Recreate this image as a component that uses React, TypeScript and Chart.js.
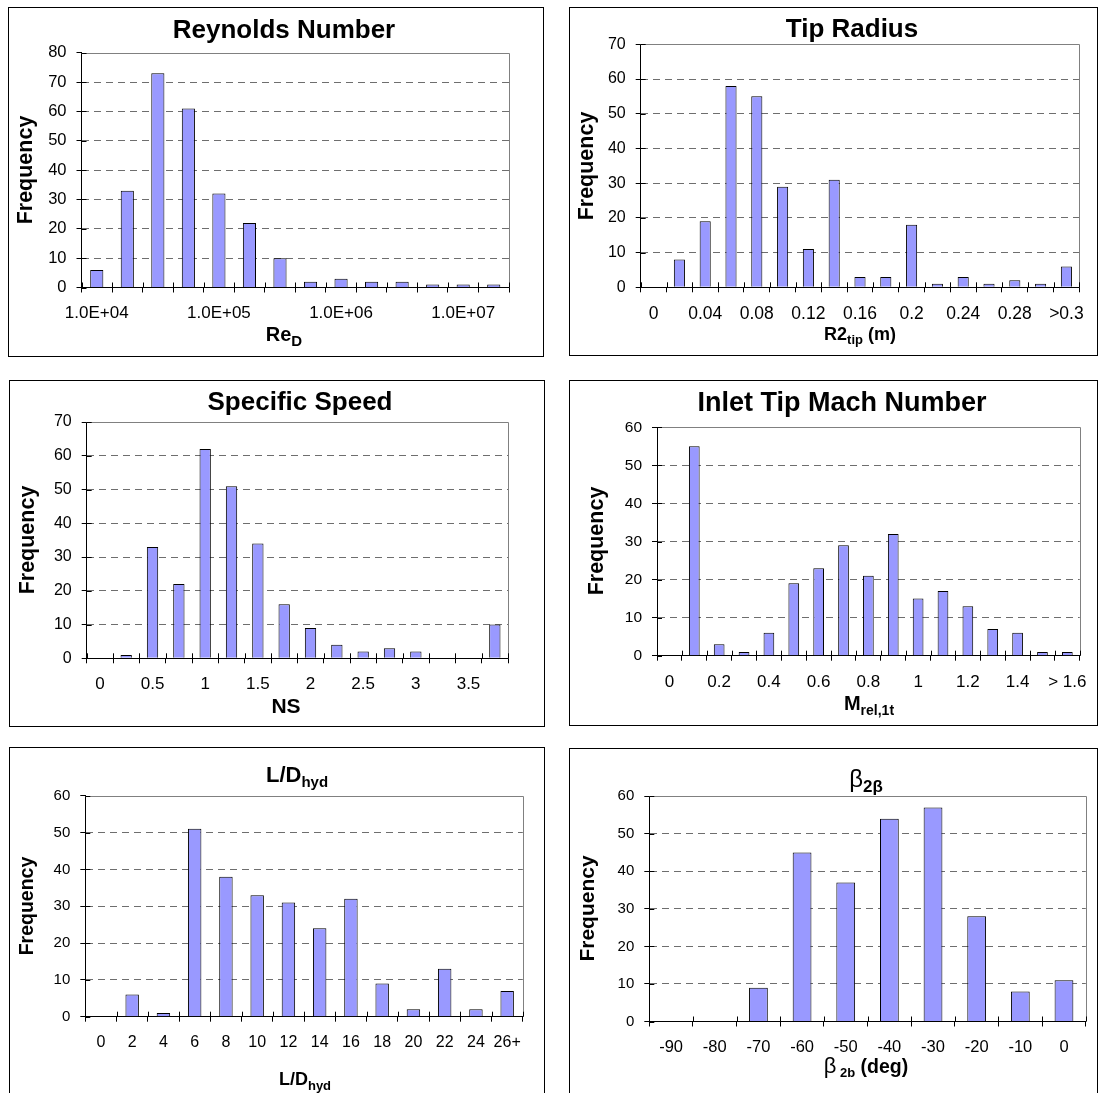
import React, { useEffect, useRef } from "react";
import { Chart, registerables } from "chart.js";

Chart.register(...registerables);

const FONT = '"Liberation Sans", Arial, Helvetica, sans-serif';

// ---- Histogram data ----
const reCategories = ["1.0E+04", "1.8E+04", "3.2E+04", "5.6E+04", "1.0E+05", "1.8E+05", "3.2E+05", "5.6E+05", "1.0E+06", "1.8E+06", "3.2E+06", "5.6E+06", "1.0E+07", "1.8E+07"];
const reCounts = [6, 33, 73, 61, 32, 22, 10, 2, 3, 2, 2, 1, 1, 1];

const tipCategories = ["0", "0.02", "0.04", "0.06", "0.08", "0.1", "0.12", "0.14", "0.16", "0.18", "0.2", "0.22", "0.24", "0.26", "0.28", "0.3", ">0.3"];
const tipCounts = [0, 8, 19, 58, 55, 29, 11, 31, 3, 3, 18, 1, 3, 1, 2, 1, 6];

const nsCategories = ["0", "0.25", "0.5", "0.75", "1", "1.25", "1.5", "1.75", "2", "2.25", "2.5", "2.75", "3", "3.25", "3.5", "3.75"];
const nsCounts = [0, 1, 33, 22, 62, 51, 34, 16, 9, 4, 2, 3, 2, 0, 0, 10];

const machCategories = ["0", "0.1", "0.2", "0.3", "0.4", "0.5", "0.6", "0.7", "0.8", "0.9", "1", "1.1", "1.2", "1.3", "1.4", "1.5", "> 1.6"];
const machCounts = [0, 55, 3, 1, 6, 19, 23, 29, 21, 32, 15, 17, 13, 7, 6, 1, 1];

const ldCategories = ["0", "2", "4", "6", "8", "10", "12", "14", "16", "18", "20", "22", "24", "26+"];
const ldCounts = [0, 6, 1, 51, 38, 33, 31, 24, 32, 9, 2, 13, 2, 7];

const betaCategories = ["-90", "-80", "-70", "-60", "-50", "-40", "-30", "-20", "-10", "0"];
const betaCounts = [0, 0, 9, 45, 37, 54, 57, 28, 8, 11];

// ---- Layout / styling ----
type Seg = { t: string; size: number; bold?: boolean; dy?: number };
type TextSpec = { segs: Seg[]; cx: number; y: number };
type PanelSpec = {
  box: { x: number; y: number; w: number; h: number };
  plot: { l: number; t: number; r: number; b: number };
  categories: string[];
  counts: number[];
  labelStep: number;
  yMax: number;
  yTickSize: number;
  xTickSize: number;
  xTickPad: number;
  title: TextSpec;
  xTitle: TextSpec;
  yTitle: { size: number; cx: number; cy: number };
};

const Y_AXIS_W = 50;
const X_AXIS_H = 40;
const TICK = 5;

const panels: PanelSpec[] = [
  {
    box: { x: 8, y: 7, w: 536, h: 350 },
    plot: { l: 81.5, t: 52.7, r: 509, b: 287.5 },
    categories: reCategories,
    counts: reCounts,
    labelStep: 4,
    yMax: 80,
    yTickSize: 16.5,
    xTickSize: 17,
    xTickPad: 11,
    title: { segs: [{ t: "Reynolds Number", size: 26, bold: true }], cx: 284, y: 38 },
    xTitle: { segs: [{ t: "Re", size: 20, bold: true }, { t: "D", size: 15, bold: true, dy: 5 }], cx: 284, y: 341 },
    yTitle: { size: 21.5, cx: 26, cy: 170 },
  },
  {
    box: { x: 569, y: 7, w: 529, h: 349 },
    plot: { l: 640.7, t: 44.3, r: 1079.3, b: 287.3 },
    categories: tipCategories,
    counts: tipCounts,
    labelStep: 2,
    yMax: 70,
    yTickSize: 16,
    xTickSize: 17.5,
    xTickPad: 11,
    title: { segs: [{ t: "Tip Radius", size: 26, bold: true }], cx: 852, y: 37 },
    xTitle: {
      segs: [
        { t: "R2", size: 18, bold: true },
        { t: "tip", size: 13, bold: true, dy: 4 },
        { t: " (m)", size: 18, bold: true },
      ],
      cx: 860,
      y: 340,
    },
    yTitle: { size: 21.5, cx: 587, cy: 166 },
  },
  {
    box: { x: 9, y: 380, w: 536, h: 347 },
    plot: { l: 86.7, t: 422, r: 508, b: 658.3 },
    categories: nsCategories,
    counts: nsCounts,
    labelStep: 2,
    yMax: 70,
    yTickSize: 16,
    xTickSize: 17,
    xTickPad: 11,
    title: { segs: [{ t: "Specific Speed", size: 26, bold: true }], cx: 300, y: 410 },
    xTitle: { segs: [{ t: "NS", size: 21, bold: true }], cx: 286, y: 713 },
    yTitle: { size: 21.5, cx: 28, cy: 540 },
  },
  {
    box: { x: 569, y: 380, w: 529, h: 346 },
    plot: { l: 657, t: 427.3, r: 1080, b: 655.7 },
    categories: machCategories,
    counts: machCounts,
    labelStep: 2,
    yMax: 60,
    yTickSize: 15.5,
    xTickSize: 17,
    xTickPad: 11,
    title: { segs: [{ t: "Inlet Tip Mach Number", size: 27, bold: true }], cx: 842, y: 411 },
    xTitle: {
      segs: [
        { t: "M", size: 20, bold: true },
        { t: "rel,1t", size: 14, bold: true, dy: 5 },
      ],
      cx: 869,
      y: 710,
    },
    yTitle: { size: 21.5, cx: 597, cy: 541 },
  },
  {
    box: { x: 9, y: 747, w: 536, h: 360 },
    plot: { l: 85.3, t: 795.7, r: 522.8, b: 1016.7 },
    categories: ldCategories,
    counts: ldCounts,
    labelStep: 1,
    yMax: 60,
    yTickSize: 15,
    xTickSize: 16,
    xTickPad: 11,
    title: {
      segs: [
        { t: "L/D", size: 22, bold: true },
        { t: "hyd", size: 15, bold: true, dy: 5 },
      ],
      cx: 297,
      y: 782,
    },
    xTitle: {
      segs: [
        { t: "L/D", size: 18, bold: true },
        { t: "hyd", size: 13, bold: true, dy: 5 },
      ],
      cx: 305,
      y: 1085,
    },
    yTitle: { size: 19.5, cx: 28, cy: 906 },
  },
  {
    box: { x: 569, y: 747.5, w: 529, h: 360 },
    plot: { l: 649.3, t: 795.7, r: 1085.8, b: 1021 },
    categories: betaCategories,
    counts: betaCounts,
    labelStep: 1,
    yMax: 60,
    yTickSize: 15,
    xTickSize: 16.5,
    xTickPad: 11,
    title: {
      segs: [
        { t: "β", size: 24 },
        { t: "2β", size: 17, bold: true, dy: 5 },
      ],
      cx: 866,
      y: 786,
    },
    xTitle: {
      segs: [
        { t: "β", size: 22 },
        { t: " 2b", size: 13, bold: true, dy: 4 },
        { t: " (deg)", size: 19.5, bold: true },
      ],
      cx: 866,
      y: 1072,
    },
    yTitle: { size: 21, cx: 588.6, cy: 908 },
  },
];

const fontOf = (s: Seg) => `${s.bold ? "bold " : ""}${s.size}px ${FONT}`;

function drawSegments(ctx: CanvasRenderingContext2D, segs: Seg[], cx: number, y: number) {
  let total = 0;
  for (const s of segs) {
    ctx.font = fontOf(s);
    total += ctx.measureText(s.t).width;
  }
  let x = cx - total / 2;
  for (const s of segs) {
    ctx.font = fontOf(s);
    ctx.fillText(s.t, x, y + (s.dy || 0));
    x += ctx.measureText(s.t).width;
  }
}

function makeDecor(p: PanelSpec) {
  const ox = p.box.x;
  const oy = p.box.y;
  return {
    id: "panelDecor",
    beforeDraw(chart: any) {
      const { ctx, width, height } = chart;
      ctx.save();
      ctx.fillStyle = "#ffffff";
      ctx.fillRect(0, 0, width, height);
      ctx.strokeStyle = "#000000";
      ctx.lineWidth = 1;
      ctx.strokeRect(0.5, 0.5, width - 1, height - 1);
      ctx.restore();
    },
    beforeDatasetsDraw(chart: any) {
      const { ctx, chartArea } = chart;
      const { left, right, top, bottom } = chartArea;
      ctx.save();
      ctx.strokeStyle = "#808080";
      ctx.lineWidth = 1;
      ctx.beginPath();
      const yt = Math.round(top) + 0.5;
      const xr = Math.round(right) + 0.5;
      ctx.moveTo(left, yt);
      ctx.lineTo(xr, yt);
      ctx.lineTo(xr, bottom);
      ctx.stroke();
      ctx.restore();
    },
    afterDraw(chart: any) {
      const { ctx, chartArea } = chart;
      const { left, bottom } = chartArea;
      const xs = chart.scales.x;
      const ys = chart.scales.y;
      ctx.save();
      // inner halves of the crossing tick marks
      ctx.strokeStyle = "#000000";
      ctx.lineWidth = 1;
      ctx.beginPath();
      const n = p.categories.length;
      const half = (xs.getPixelForValue(1) - xs.getPixelForValue(0)) / 2;
      for (let i = 0; i <= n; i++) {
        const x = Math.round(i < n ? xs.getPixelForValue(i) - half : xs.getPixelForValue(n - 1) + half) + 0.5;
        ctx.moveTo(x, bottom);
        ctx.lineTo(x, bottom - TICK);
      }
      for (const t of ys.ticks) {
        const y = Math.round(ys.getPixelForValue(t.value)) + 0.5;
        ctx.moveTo(left, y);
        ctx.lineTo(left + TICK, y);
      }
      ctx.stroke();

      // titles
      ctx.fillStyle = "#000000";
      ctx.textAlign = "left";
      ctx.textBaseline = "alphabetic";
      drawSegments(ctx, p.title.segs, p.title.cx - ox, p.title.y - oy);
      drawSegments(ctx, p.xTitle.segs, p.xTitle.cx - ox, p.xTitle.y - oy);

      ctx.translate(p.yTitle.cx - ox, p.yTitle.cy - oy);
      ctx.rotate(-Math.PI / 2);
      ctx.font = `bold ${p.yTitle.size}px ${FONT}`;
      ctx.textAlign = "center";
      ctx.textBaseline = "middle";
      ctx.fillText("Frequency", 0, 0);
      ctx.restore();
    },
  };
}

function buildConfig(p: PanelSpec): any {
  const pad = {
    left: p.plot.l - p.box.x - Y_AXIS_W,
    top: p.plot.t - p.box.y,
    right: p.box.x + p.box.w - p.plot.r,
    bottom: p.box.y + p.box.h - p.plot.b - X_AXIS_H,
  };
  return {
    type: "bar",
    data: {
      labels: p.categories,
      datasets: [
        {
          data: p.counts,
          backgroundColor: "#9999ff",
          borderColor: "#000000",
          borderWidth: 1,
          barPercentage: 0.43,
          categoryPercentage: 1,
        },
      ],
    },
    plugins: [makeDecor(p)],
    options: {
      animation: false,
      responsive: false,
      devicePixelRatio: 1,
      layout: { padding: pad },
      plugins: {
        legend: { display: false },
        title: { display: false },
        tooltip: { enabled: false },
      },
      scales: {
        x: {
          type: "category",
          afterFit: (s: any) => {
            s.height = X_AXIS_H;
          },
          grid: {
            display: true,
            offset: true,
            drawOnChartArea: false,
            drawTicks: true,
            tickLength: TICK,
            tickColor: "#000000",
            color: "#000000",
          },
          border: { display: true, color: "#000000", width: 1 },
          ticks: {
            autoSkip: false,
            maxRotation: 0,
            minRotation: 0,
            padding: p.xTickPad,
            color: "#000000",
            font: { family: FONT, size: p.xTickSize },
            callback: (_v: any, i: number) => (i % p.labelStep === 0 ? p.categories[i] : ""),
          },
        },
        y: {
          min: 0,
          max: p.yMax,
          afterFit: (s: any) => {
            s.width = Y_AXIS_W;
          },
          grid: {
            drawTicks: true,
            tickLength: TICK,
            tickColor: "#000000",
            color: (c: any) =>
              c.tick && (c.tick.value === 0 || c.tick.value === p.yMax) ? "rgba(0,0,0,0)" : "#6e6e6e",
          },
          border: { display: true, color: "#000000", width: 1, dash: [7, 5] },
          ticks: {
            stepSize: 10,
            padding: 10,
            color: "#000000",
            font: { family: FONT, size: p.yTickSize },
          },
        },
      },
    },
  };
}

function HistogramPanel({ spec }: { spec: PanelSpec }) {
  const ref = useRef<HTMLCanvasElement | null>(null);
  useEffect(() => {
    if (!ref.current) return;
    const chart = new Chart(ref.current, buildConfig(spec));
    return () => chart.destroy();
  }, [spec]);
  return (
    <canvas
      ref={ref}
      width={spec.box.w}
      height={spec.box.h}
      style={{
        position: "absolute",
        left: spec.box.x,
        top: spec.box.y,
        width: spec.box.w,
        height: spec.box.h,
        display: "block",
      }}
    />
  );
}

export default function App() {
  return (
    <div
      style={{
        position: "absolute",
        left: 0,
        top: 0,
        width: 1102,
        height: 1093,
        overflow: "hidden",
        background: "#ffffff",
      }}
    >
      {panels.map((p, i) => (
        <HistogramPanel key={i} spec={p} />
      ))}
    </div>
  );
}
